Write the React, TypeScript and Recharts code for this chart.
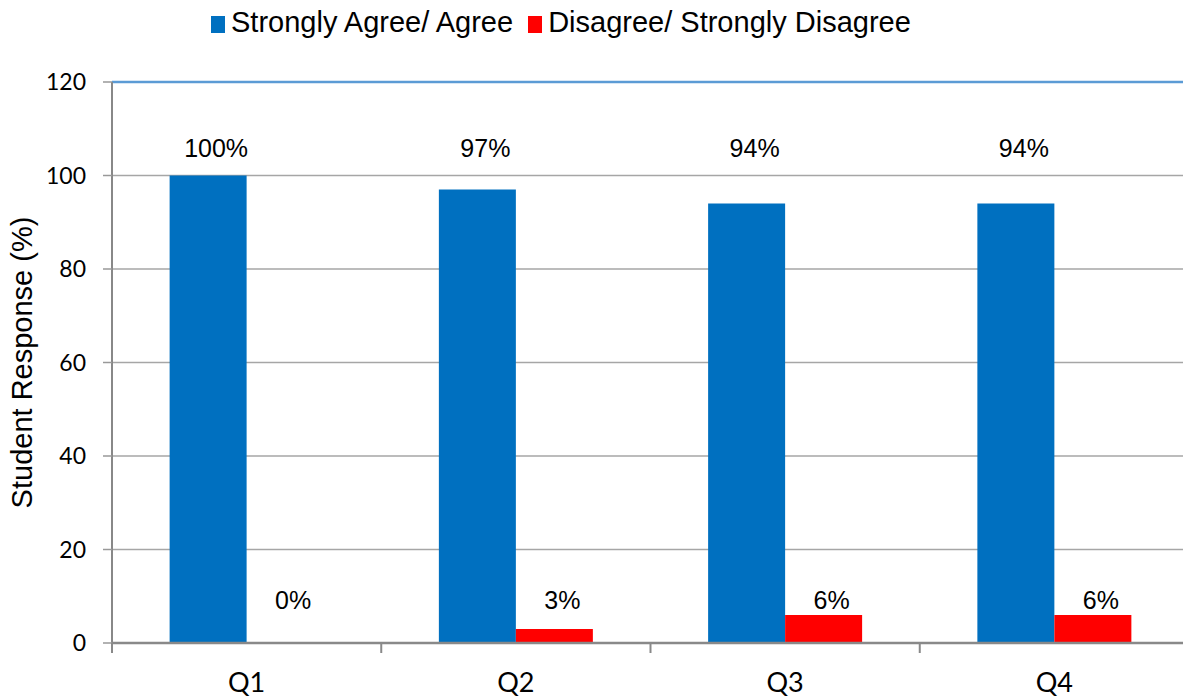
import { Bar, BarChart, CartesianGrid, LabelList, ReferenceLine, XAxis, YAxis } from "recharts"

// survey questions and the share of students per answer group (%)
const questions = ["Q1", "Q2", "Q3", "Q4"]
const agree = [100, 97, 94, 94]
const disagree = [0, 3, 6, 6]
const yTicks = [0, 20, 40, 60, 80, 100, 120]

const seriesNames = {
  agree: "Strongly Agree/ Agree",
  disagree: "Disagree/ Strongly Disagree",
}

const BLUE = "#0070C0"
const RED = "#FF0000"
const ARIAL = "'Liberation Sans', Arial, sans-serif"
const CALIBRI = "Lato, 'Open Sans', sans-serif"

const CHART_W = 1189
const CHART_H = 700
const TOP = 82
const Y_AXIS_W = 112
const X_AXIS_H = 57
const HALF_BAND = (CHART_W - Y_AXIS_W) / questions.length / 2

const data = questions.map((q, i) => ({
  name: q,
  agree: agree[i],
  disagree: disagree[i],
}))

// Excel placed the data labels by hand: one row above, one row near the floor.
// Both rows hang off the blue bars, since a 0-height red bar gets no label.
// shift = how many bar widths to the right of the blue bar's centre
function makeLabel(baseline: number, shift: number) {
  return (props: any) => {
    const vb = props.viewBox || props
    return (
      <text
        x={vb.x + vb.width / 2 + vb.width * shift + 8}
        y={baseline}
        textAnchor="middle"
        fontFamily={ARIAL}
        fontSize={25}
        fill="#000"
      >
        {props.value}%
      </text>
    )
  }
}

function QuestionTick(props: any) {
  const { x, y, payload } = props
  return (
    <g>
      <line x1={x - HALF_BAND} x2={x - HALF_BAND} y1={y - 10} y2={y} stroke="#898989" strokeWidth={2} />
      <text x={x} y={y + 39} textAnchor="middle" fontFamily={CALIBRI} fontSize={27} fill="#000">
        {payload.value}
      </text>
    </g>
  )
}

function LegendRow() {
  const item = (color: string, label: string, marginRight: number) => (
    <div style={{ display: "flex", alignItems: "center", marginRight }}>
      <span style={{ width: 14, height: 17, background: color, marginRight: 6, marginTop: 3 }} />
      <span>{label}</span>
    </div>
  )
  return (
    <div
      style={{
        position: "absolute",
        left: 211,
        top: 8,
        display: "flex",
        fontFamily: ARIAL,
        fontSize: 29,
        lineHeight: "29px",
        color: "#000",
        whiteSpace: "nowrap",
      }}
    >
      {item(BLUE, seriesNames.agree, 15)}
      {item(RED, seriesNames.disagree, 0)}
    </div>
  )
}

export default function App() {
  return (
    <div
      style={{
        position: "absolute",
        left: 0,
        top: 0,
        width: 1183,
        height: CHART_H,
        overflow: "hidden",
        background: "#fff",
      }}
    >
      <LegendRow />
      <BarChart
        width={CHART_W}
        height={CHART_H}
        data={data}
        margin={{ top: TOP, right: 0, bottom: 0, left: 0 }}
        barCategoryGap="21.4%"
        barGap={0}
      >
        <CartesianGrid vertical={false} stroke="#A6A6A6" strokeWidth={1.5} />
        <XAxis
          dataKey="name"
          height={X_AXIS_H}
          axisLine={{ stroke: "#898989", strokeWidth: 2.5 }}
          tickLine={false}
          tickSize={10}
          tickMargin={0}
          tick={<QuestionTick />}
          interval={0}
        />
        <YAxis
          width={Y_AXIS_W}
          domain={[0, 120]}
          ticks={yTicks}
          interval={0}
          axisLine={{ stroke: "#888", strokeWidth: 2 }}
          tickLine={{ stroke: "#999", strokeWidth: 1.5 }}
          tickSize={9}
          tickMargin={17}
          tick={{ fontFamily: CALIBRI, fontSize: 23, fill: "#000" }}
          label={{
            value: "Student Response (%)",
            angle: -90,
            position: "insideLeft",
            offset: 22,
            style: { textAnchor: "middle", fontFamily: ARIAL, fontSize: 29, fill: "#000" },
          }}
        />
        <ReferenceLine y={120} stroke="#5B9BD5" strokeWidth={2.5} />
        <Bar dataKey="agree" name={seriesNames.agree} fill={BLUE} isAnimationActive={false}>
          <LabelList dataKey="agree" content={makeLabel(157, 0)} />
          <LabelList dataKey="disagree" content={makeLabel(609, 1)} />
        </Bar>
        <Bar dataKey="disagree" name={seriesNames.disagree} fill={RED} isAnimationActive={false} />
      </BarChart>
    </div>
  )
}
